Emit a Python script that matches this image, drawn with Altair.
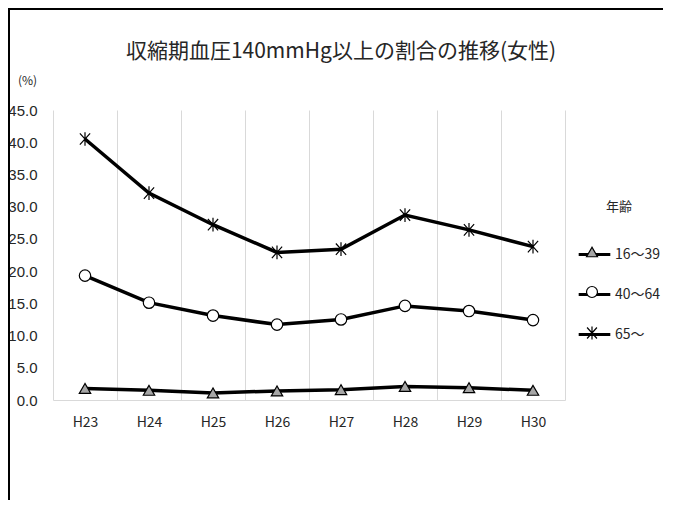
import json
import altair as alt
import pandas as pd

categories = ["H23", "H24", "H25", "H26", "H27", "H28", "H29", "H30"]
series_names = ["16～39", "40～64", "65～"]
s_16_39 = [1.8, 1.5, 1.1, 1.4, 1.6, 2.1, 1.9, 1.5]
s_40_64 = [19.3, 15.1, 13.1, 11.7, 12.5, 14.6, 13.8, 12.4]
s_65 = [40.5, 32.1, 27.2, 22.9, 23.4, 28.7, 26.4, 23.8]
y_ticks = [0, 5, 10, 15, 20, 25, 30, 35, 40, 45]

rows = []
for name, vals in zip(series_names, [s_16_39, s_40_64, s_65]):
    for i, (c, v) in enumerate(zip(categories, vals)):
        rows.append({"series": name, "grp": name, "cat": c, "idx": i, "value": v})
df = pd.DataFrame(rows)

JP = "Noto Sans CJK JP"
NUM = "Liberation Sans Narrow, Liberation Sans, Noto Sans"
TXT = "#262626"

xscale = alt.Scale(domain=[-0.5, len(categories) - 0.5], nice=False, zero=False)
yscale = alt.Scale(domain=[0, 45], nice=False)

grid_axis = alt.Axis(values=[i - 0.5 for i in range(len(categories) + 1)], grid=True,
                     gridColor="#d9d9d9", gridWidth=1, labels=False, ticks=False,
                     domain=True, domainColor="#d9d9d9", title=None, orient="bottom")
label_axis = alt.Axis(values=list(range(len(categories))), grid=False, ticks=False,
                      domain=False, title=None, orient="bottom",
                      labelExpr=json.dumps(categories) + "[datum.value]",
                      labelFont=JP, labelFontSize=14, labelColor=TXT, labelPadding=15)
y_axis = alt.Axis(values=y_ticks, format=".1f", grid=False, ticks=False, tickSize=0,
                  domain=False, labelFont=NUM, labelFontSize=15, labelColor=TXT,
                  labelPadding=16, title="(%)", titleAngle=0, titleX=-26, titleY=-30,
                  titleAlign="center", titleBaseline="middle", titleFont=JP,
                  titleFontSize=12, titleFontWeight="normal", titleColor=TXT)

base = alt.Chart(df)

line = base.mark_line(strokeWidth=3.5).encode(
    x=alt.X("idx:Q", scale=xscale, axis=grid_axis),
    y=alt.Y("value:Q", scale=yscale, axis=y_axis),
    color=alt.Color("grp:N", scale=alt.Scale(range=["black"] * 3),
                    legend=alt.Legend(orient="none", legendX=524, legendY=91, title="年齢",
                                      titleFont=JP, titleFontSize=13, titleFontWeight="normal",
                                      titleColor=TXT, titleAnchor="middle", titlePadding=23,
                                      symbolType="stroke", symbolStrokeWidth=3, symbolSize=1000,
                                      labelFont=JP, labelFontSize=14, labelColor=TXT,
                                      labelOffset=3, rowPadding=15, padding=0)),
)

star = "M-0.9,-1L0.9,1M-0.9,1L0.9,-1M0,-1.2L0,1.2"

points = base.mark_point(filled=True, strokeWidth=1.2, opacity=1, size=130).encode(
    x=alt.X("idx:Q", scale=xscale, axis=label_axis),
    y=alt.Y("value:Q", scale=yscale, axis=y_axis),
    shape=alt.Shape("series:N", scale=alt.Scale(domain=series_names,
                                                range=["triangle-up", "circle", star]),
                    legend=alt.Legend(orient="none", legendX=532, legendY=91, title="年齢",
                                      titleFont=JP, titleFontSize=13, titleFontWeight="normal",
                                      titleOpacity=0, titleAnchor="start", titlePadding=31,
                                      symbolSize=120, symbolStrokeWidth=1.2, labelOpacity=0,
                                      labelFont=JP, labelFontSize=14,
                                      rowPadding=24, padding=0)),
    fill=alt.Fill("series:N", scale=alt.Scale(domain=series_names,
                                              range=["#a6a6a6", "white", "white"])),
    stroke=alt.Stroke("series:N", scale=alt.Scale(domain=series_names,
                                                  range=["black", "black", "black"])),
)

frame_left = alt.Chart(df).mark_rule(color="black", strokeWidth=2, clip=False).encode(
    x=alt.value(-44), y=alt.value(-102), y2=alt.value(392))
frame_top = alt.Chart(df).mark_rule(color="black", strokeWidth=2, clip=False).encode(
    x=alt.value(-45), x2=alt.value(610), y=alt.value(-101))

chart = alt.layer(line, points, frame_left, frame_top).resolve_axis(x="independent").properties(
    width=512, height=290,
    autosize=alt.AutoSizeParams(type="none"),
    padding={"left": 45, "top": 102, "right": 100, "bottom": 100},
    title=alt.TitleParams("収縮期血圧140mmHg以上の割合の推移(女性)", font=JP, fontSize=21,
                          fontWeight="normal", color=TXT, anchor="middle", frame="group",
                          dx=32, offset=-55),
).configure_view(stroke=None)

chart.save("out.html", embed_options={"renderer": "svg", "actions": False})
